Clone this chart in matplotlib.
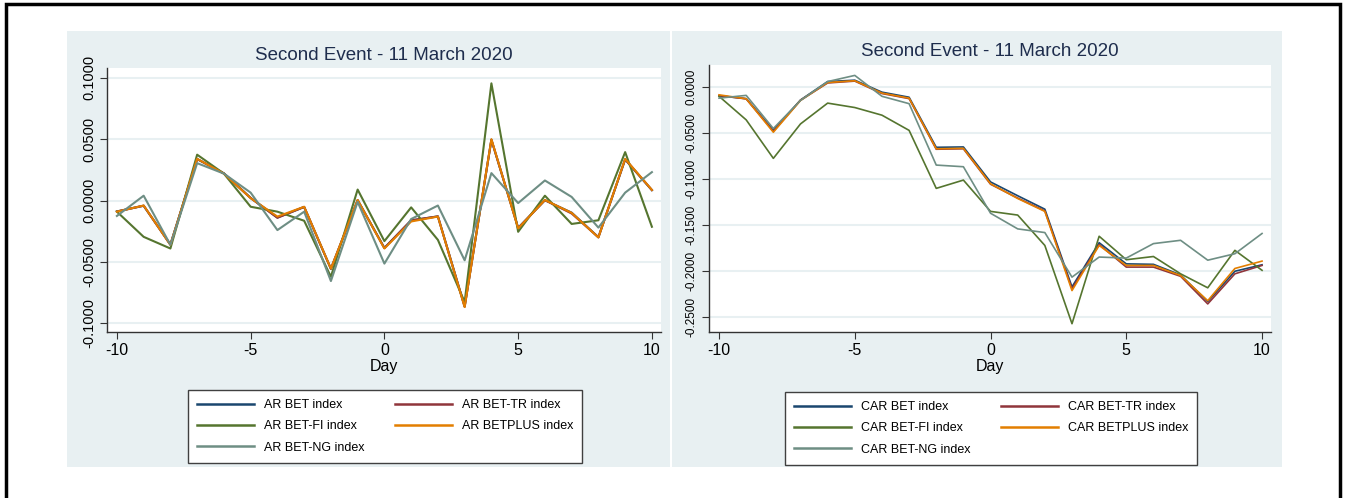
import matplotlib
matplotlib.use("Agg")
import matplotlib.pyplot as plt
from matplotlib.patches import Rectangle
from matplotlib.ticker import FormatStrFormatter

plt.rcParams['font.family'] = ['Liberation Sans', 'DejaVu Sans']
plt.rcParams['axes.unicode_minus'] = False

# data
days = list(range(-10, 11))

ar_bet = [-0.0088, -0.0042, -0.0358, 0.0338, 0.0222, 0.0022, -0.0138, -0.0052, -0.0556, 0.0003,
          -0.0385, -0.0162, -0.0128, -0.0862, 0.0495, -0.0222, 0.0003, -0.0098, -0.0298, 0.0335, 0.0085]
ar_bettr = [-0.0089, -0.0041, -0.0359, 0.0339, 0.0221, 0.0021, -0.0140, -0.0051, -0.0555, 0.0004,
            -0.0387, -0.0160, -0.0129, -0.0864, 0.0497, -0.0224, 0.0004, -0.0105, -0.0299, 0.0337, 0.0086]
ar_betfi = [-0.0090, -0.0295, -0.0390, 0.0374, 0.0220, -0.0050, -0.0090, -0.0164, -0.0620, 0.0090,
            -0.0330, -0.0055, -0.0320, -0.0826, 0.0955, -0.0254, 0.0040, -0.0190, -0.0160, 0.0395, -0.0213]
ar_betplus = [-0.0090, -0.0040, -0.0360, 0.0340, 0.0220, 0.0020, -0.0130, -0.0050, -0.0554, 0.0005,
              -0.0390, -0.0170, -0.0130, -0.0867, 0.0500, -0.0226, 0.0005, -0.0100, -0.0300, 0.0340, 0.0087]
ar_betng = [-0.0125, 0.0040, -0.0360, 0.0305, 0.0220, 0.0065, -0.0240, -0.0090, -0.0655, -0.0010,
            -0.0513, -0.0150, -0.0040, -0.0486, 0.0224, -0.0020, 0.0164, 0.0030, -0.0220, 0.0065, 0.0232]

car_bet = [-0.0095, -0.0125, -0.0470, -0.0140, 0.0060, 0.0075, -0.0055, -0.0110, -0.0654, -0.0650,
           -0.1030, -0.1180, -0.1326, -0.2170, -0.1690, -0.1920, -0.1925, -0.2040, -0.2330, -0.2000, -0.1930]
car_bettr = [-0.0092, -0.0128, -0.0480, -0.0143, 0.0045, 0.0065, -0.0070, -0.0125, -0.0675, -0.0670,
             -0.1055, -0.1205, -0.1345, -0.2190, -0.1710, -0.1955, -0.1955, -0.2055, -0.2355, -0.2028, -0.1937]
car_betfi = [-0.0100, -0.0356, -0.0774, -0.0400, -0.0174, -0.0222, -0.0305, -0.0470, -0.1100, -0.1010,
             -0.1350, -0.1390, -0.1720, -0.2570, -0.1620, -0.1875, -0.1840, -0.2028, -0.2180, -0.1773, -0.1990]
car_betplus = [-0.0084, -0.0127, -0.0490, -0.0145, 0.0050, 0.0069, -0.0065, -0.0120, -0.0670, -0.0665,
               -0.1050, -0.1210, -0.1350, -0.2210, -0.1720, -0.1937, -0.1937, -0.2046, -0.2320, -0.1970, -0.1890]
car_betng = [-0.0120, -0.0090, -0.0450, -0.0145, 0.0060, 0.0127, -0.0100, -0.0180, -0.0847, -0.0865,
             -0.1370, -0.1540, -0.1580, -0.2064, -0.1846, -0.1857, -0.1700, -0.1664, -0.1880, -0.1810, -0.1590]

names = ["BET index", "BET-TR index", "BET-FI index", "BETPLUS index", "BET-NG index"]
colors = ["#1a476f", "#90353b", "#55752f", "#e37e00", "#6e8e84"]

W, H = 1345, 498
BG = "#e8f0f2"

fig = plt.figure(figsize=(W / 100, H / 100), dpi=100)
fig.patch.set_facecolor("white")


def box(x0, y0, x1, y1):
    # pixel box (top-left origin) -> figure fraction
    return [x0 / W, 1 - y1 / H, (x1 - x0) / W, (y1 - y0) / H]


def panel(x0, y0, x1, y1):
    l, b, w, h = box(x0, y0, x1, y1)
    fig.patches.append(Rectangle((l, b), w, h, transform=fig.transFigure,
                                 facecolor=BG, edgecolor="none", zorder=-5))


panel(67, 31, 670, 467)
panel(672, 31, 1282, 467)
l, b, w, h = box(6, 4, 1340, 520)
fig.patches.append(Rectangle((l, b), w, h, transform=fig.transFigure, facecolor="none",
                             edgecolor="black", lw=2.5, zorder=5, clip_on=False))


def draw(rect, series, prefix, xlim, ylim, yticks, ylab_size, lw, title_y, legend_box):
    ax = fig.add_axes(box(*rect))
    ax.set_facecolor("white")
    lines = []
    for i in range(5):
        ln, = ax.plot(days, series[i], color=colors[i], lw=lw, label=prefix + " " + names[i])
        lines.append(ln)
    ax.set_xlim(*xlim)
    ax.set_ylim(*ylim)
    ax.set_xticks([-10, -5, 0, 5, 10])
    ax.set_yticks(yticks)
    ax.yaxis.set_major_formatter(FormatStrFormatter("%.4f"))
    ax.grid(axis="y", color=BG, lw=1.5)
    ax.set_axisbelow(True)
    for s in ["top", "right"]:
        ax.spines[s].set_visible(False)
    for s in ["left", "bottom"]:
        ax.spines[s].set_color("#333333")
        ax.spines[s].set_linewidth(1.0)
    ax.tick_params(axis="x", length=5, color="#333333", labelsize=11.5, pad=3)
    ax.tick_params(axis="y", length=5, color="#333333", labelsize=ylab_size, pad=3)
    for t in ax.get_yticklabels():
        t.set_rotation(90)
        t.set_va("center")
    ax.set_xlabel("Day", fontsize=11.5, labelpad=1)
    cx = (rect[0] + rect[2]) / 2
    fig.text(cx / W, 1 - title_y / H, "Second Event - 11 March 2020", ha="center", va="center",
             fontsize=13.5, color="#1e2d4d")
    hs = [lines[0], lines[2], lines[4], lines[1], lines[3]]
    lx0, ly0, lx1, ly1 = legend_box
    leg = fig.legend(handles=hs, labels=[h_.get_label() for h_ in hs], ncol=2,
                     loc="upper center", bbox_to_anchor=((lx0 + lx1) / 2 / W, 1 - ly0 / H),
                     fontsize=9, handlelength=4.6, handletextpad=0.8, columnspacing=2.4,
                     labelspacing=0.75, borderpad=0.7, fancybox=False, frameon=True,
                     framealpha=1)
    leg.get_frame().set_edgecolor("#404040")
    leg.get_frame().set_linewidth(1.0)
    for ln in leg.get_lines():
        ln.set_linewidth(1.8)
    return ax


draw((107, 68, 661, 332), [ar_bet, ar_bettr, ar_betfi, ar_betplus, ar_betng], "AR",
     (-10.37, 10.34), (-0.107, 0.108), [-0.1, -0.05, 0, 0.05, 0.1], 10.5, 1.5, 55,
     (190, 384, 580, 456))
draw((709, 65, 1271, 332), [car_bet, car_bettr, car_betfi, car_betplus, car_betng], "CAR",
     (-10.37, 10.33), (-0.266, 0.024), [-0.25, -0.2, -0.15, -0.1, -0.05, 0], 8.5, 1.2, 52,
     (786, 386, 1196, 459))

fig.savefig("out.png", dpi=100)
